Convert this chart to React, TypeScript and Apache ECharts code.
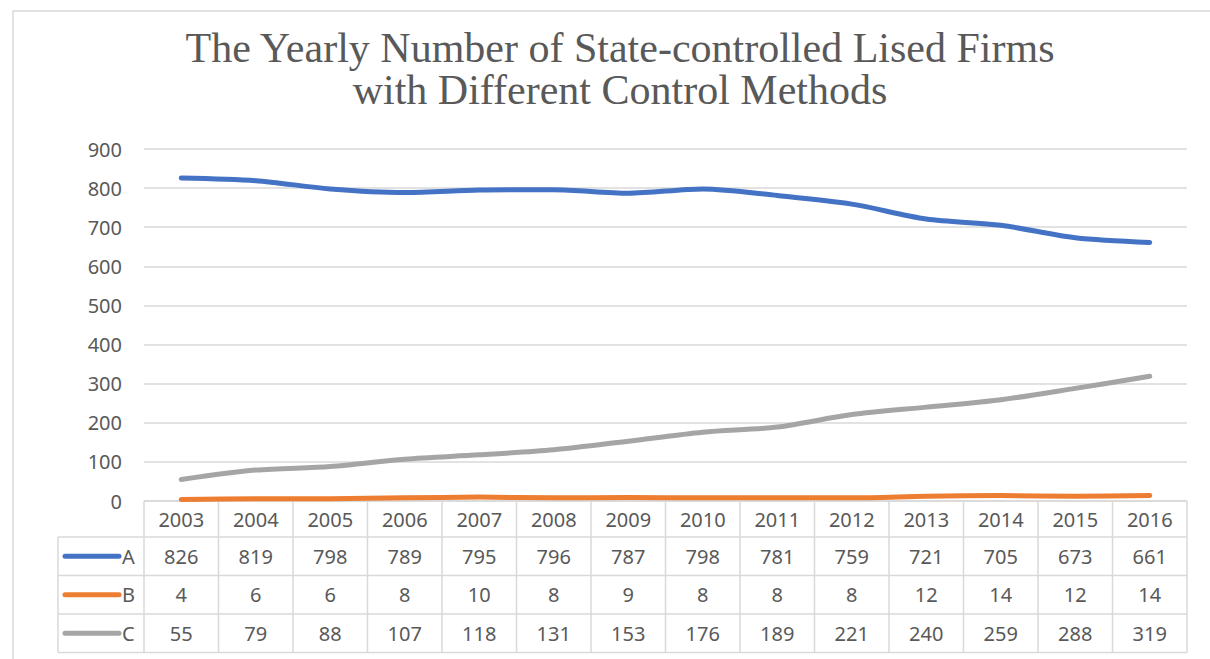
import React, { useEffect, useRef } from "react";
import * as echarts from "echarts";

const years = ["2003","2004","2005","2006","2007","2008","2009","2010","2011","2012","2013","2014","2015","2016"];
const seriesA = [826, 819, 798, 789, 795, 796, 787, 798, 781, 759, 721, 705, 673, 661];
const seriesB = [4, 6, 6, 8, 10, 8, 9, 8, 8, 8, 12, 14, 12, 14];
const seriesC = [55, 79, 88, 107, 118, 131, 153, 176, 189, 221, 240, 259, 288, 319];
const seriesNames = ["A", "B", "C"];
const seriesColors = ["#4472C4", "#ED7D31", "#A5A5A5"];
const titleText = "The Yearly Number of State-controlled Lised Firms\nwith Different Control Methods";

const TEXT = "#595959";
const GRIDC = "#d9d9d9";
const FONT = "'Noto Sans', sans-serif";

export default function App() {
  const ref = useRef<HTMLDivElement>(null);
  useEffect(() => {
    if (!ref.current) return;
    const chart = echarts.init(ref.current, undefined, { renderer: "svg" });
    const data = [seriesA, seriesB, seriesC];
    const option: any = {
      animation: false,
      backgroundColor: "#ffffff",
      title: {
        text: titleText,
        left: 615,
        top: 22,
        textAlign: "center",
        textStyle: {
          fontFamily: "'Liberation Serif', 'Times New Roman', serif",
          fontSize: 42,
          fontWeight: "normal",
          color: TEXT,
          lineHeight: 42,
        },
      },
      grid: { left: 144, right: 23, top: 149, bottom: 158 },
      xAxis: {
        type: "category",
        data: years,
        boundaryGap: true,
        axisLine: { show: false },
        axisTick: { show: false },
        axisLabel: { show: false },
        splitLine: { show: false },
      },
      yAxis: {
        type: "value",
        min: 0,
        max: 900,
        interval: 100,
        axisLine: { show: false },
        axisTick: { show: false },
        axisLabel: { color: TEXT, fontSize: 20, fontFamily: FONT, margin: 22 },
        splitLine: { lineStyle: { color: GRIDC, width: 1.5 } },
      },
      series: data.map((d, i) => ({
        name: seriesNames[i],
        type: "line",
        data: d,
        smooth: 0.3,
        symbol: "none",
        lineStyle: { color: seriesColors[i], width: 5, cap: "round", join: "round" },
        itemStyle: { color: seriesColors[i] },
        z: 3 + (2 - i),
      })),
    };
    chart.setOption(option);

    // Build data table under the plot using the axis scales
    const x0 = chart.convertToPixel({ xAxisIndex: 0 }, years[0]) as number;
    const x1 = chart.convertToPixel({ xAxisIndex: 0 }, years[1]) as number;
    const band = x1 - x0;
    const tableTop = chart.convertToPixel({ yAxisIndex: 0 }, 0) as number;
    const headerH = 36;
    const rowH = 38.5;
    const legendLeft = 58;
    const colLeft = x0 - band / 2;
    const colRight = colLeft + band * years.length;
    const lineStyle = { stroke: GRIDC, lineWidth: 1.5 };
    const els: any[] = [];

    // outer chart border
    els.push({
      type: "rect",
      shape: { x: 13, y: 11, width: 1220, height: 700 },
      style: { fill: "none", stroke: GRIDC, lineWidth: 1.5 },
      silent: true,
      z: 0,
    });

    const rowsBottom = tableTop + headerH + rowH * 3;
    // horizontal lines
    els.push({ type: "line", shape: { x1: colLeft, y1: tableTop, x2: colRight, y2: tableTop }, style: lineStyle });
    for (let r = 0; r <= 3; r++) {
      const y = tableTop + headerH + rowH * r;
      els.push({ type: "line", shape: { x1: legendLeft, y1: y, x2: colRight, y2: y }, style: lineStyle });
    }
    // vertical lines
    els.push({ type: "line", shape: { x1: legendLeft, y1: tableTop + headerH, x2: legendLeft, y2: rowsBottom }, style: lineStyle });
    for (let c = 0; c <= years.length; c++) {
      const x = colLeft + band * c;
      els.push({ type: "line", shape: { x1: x, y1: tableTop, x2: x, y2: rowsBottom }, style: lineStyle });
    }
    // header texts
    years.forEach((yr, i) => {
      const cx = chart.convertToPixel({ xAxisIndex: 0 }, yr) as number;
      els.push({
        type: "text",
        x: cx,
        y: tableTop + headerH / 2,
        style: { text: yr, fill: TEXT, font: `20px ${FONT}`, align: "center", verticalAlign: "middle" },
      });
    });
    // rows
    data.forEach((d, r) => {
      const cy = tableTop + headerH + rowH * r + rowH / 2;
      els.push({
        type: "line",
        shape: { x1: 65, y1: cy, x2: 119, y2: cy },
        style: { stroke: seriesColors[r], lineWidth: 5, lineCap: "round" },
      });
      els.push({
        type: "text",
        x: 122,
        y: cy,
        style: { text: seriesNames[r], fill: TEXT, font: `20px ${FONT}`, align: "left", verticalAlign: "middle" },
      });
      d.forEach((v, i) => {
        const cx = chart.convertToPixel({ xAxisIndex: 0 }, years[i]) as number;
        els.push({
          type: "text",
          x: cx,
          y: cy,
          style: { text: String(v), fill: TEXT, font: `20px ${FONT}`, align: "center", verticalAlign: "middle" },
        });
      });
    });

    chart.setOption({ graphic: { elements: els } });
    return () => chart.dispose();
  }, []);
  return <div ref={ref} style={{ position: "fixed", left: 0, top: 0, width: 1210, height: 659 }} />;
}
